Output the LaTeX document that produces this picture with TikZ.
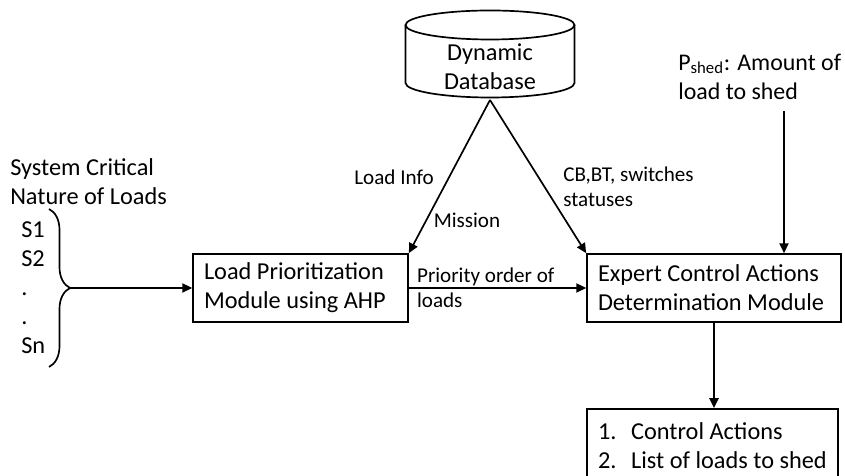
\documentclass[tikz,border=0pt]{standalone}
\usepackage{fontspec}
\setmainfont{Carlito}
\usetikzlibrary{positioning}
\usetikzlibrary{arrows.meta}
\usetikzlibrary{decorations.pathreplacing}
\tikzset{
    mybox/.style = {rectangle, line width=1.2pt, draw=black, align=flush left, minimum height=1.7cm, inner xsep=0.275cm, font=\fontsize{17.3}{20.6}\selectfont, text=black},
    mytext/.style = {align=left, inner sep=0pt, font=\fontsize{17.3}{20.6}\selectfont, text=black},
    mylabel/.style = {align=left, inner sep=0pt, font=\fontsize{15}{17.8}\selectfont, text=black},
    edgen/.style = {-{Triangle[length=7pt,width=6.5pt]}, line width=1.2pt, black},
    edgeb/.style = {-, line width=1.2pt, black}, % outlines
}

\begin{document}
\begin{tikzpicture}
\useasboundingbox (0,0) rectangle (21.125,11.9);
\clip (0,0) rectangle (21.125,11.9);

% database
\draw[edgeb] (12.25,11.275) ellipse (2.1125 and 0.3625);
\draw[edgeb] (10.1375,11.275) -- (10.1375,9.825) arc (180:360:2.1125 and 0.3625) -- (14.3625,11.275);
\node[mytext, align=center] at (12.25,10.225) (db) {Dynamic\\Database};
\coordinate (dbbot) at (12.25,9.4);

%
\node[mybox, text width=4.825cm, minimum width=5.375cm] at (7.5125,4.7) (lp) {Load Prioritization\\Module using AHP};
\node[mybox, text width=5.8cm, minimum width=6.35cm] at (17.85,4.7) (ex) {Expert Control Actions\\Determination Module};
\node[mybox, align=left, anchor=north, minimum width=6.275cm, minimum height=1.85cm, inner xsep=0pt] at (17.8125,1.7) (out) {\makebox[0.825cm][l]{1.}Control Actions\\\makebox[0.825cm][l]{2.}List of loads to shed};

% inputs
\node[mytext, anchor=west] at (0.25,7.3625) (sys) {System Critical\\Nature of Loads};
\node[mytext, anchor=west] at (0.525,4.7) (loads) {S1\\S2\\.\\.\\Sn};
\draw[edgeb, decorate, decoration={brace, amplitude=0.525cm}] (1.225,6.675) -- (1.225,2.725);
\coordinate (brtip) at (1.75,4.7);
\node[mytext, anchor=west, font=\fontsize{17}{20.6}\selectfont] at (16.95,9.9875) (pshed) {P\textsubscript{shed}: Amount of\\load to shed};
\coordinate (ptop) at (19.6,9.125);

% labels
\node[mylabel] at (9.85,7.475) (linfo) {Load Info};
\node[mylabel] at (11.675,6.4) (miss) {Mission};
\node[mylabel, anchor=west] at (14.075,7.225) (cbbt) {CB,BT, switches\\statuses};
\node[mylabel, anchor=west, right=0.2cm of lp.east] (prio) {Priority order of\\loads};

%
\draw[edgen] (brtip) -- (lp.west);
\draw[edgen] (lp.east) -- (ex.west);
\draw[edgen] (dbbot) -- (lp.north east);
\draw[edgen] (dbbot) -- (ex.north west);
\draw[edgen] (ptop) -- (ptop |- ex.north);
\draw[edgen] (ex.south) -- (ex.south |- out.north);

\end{tikzpicture}
\end{document}
